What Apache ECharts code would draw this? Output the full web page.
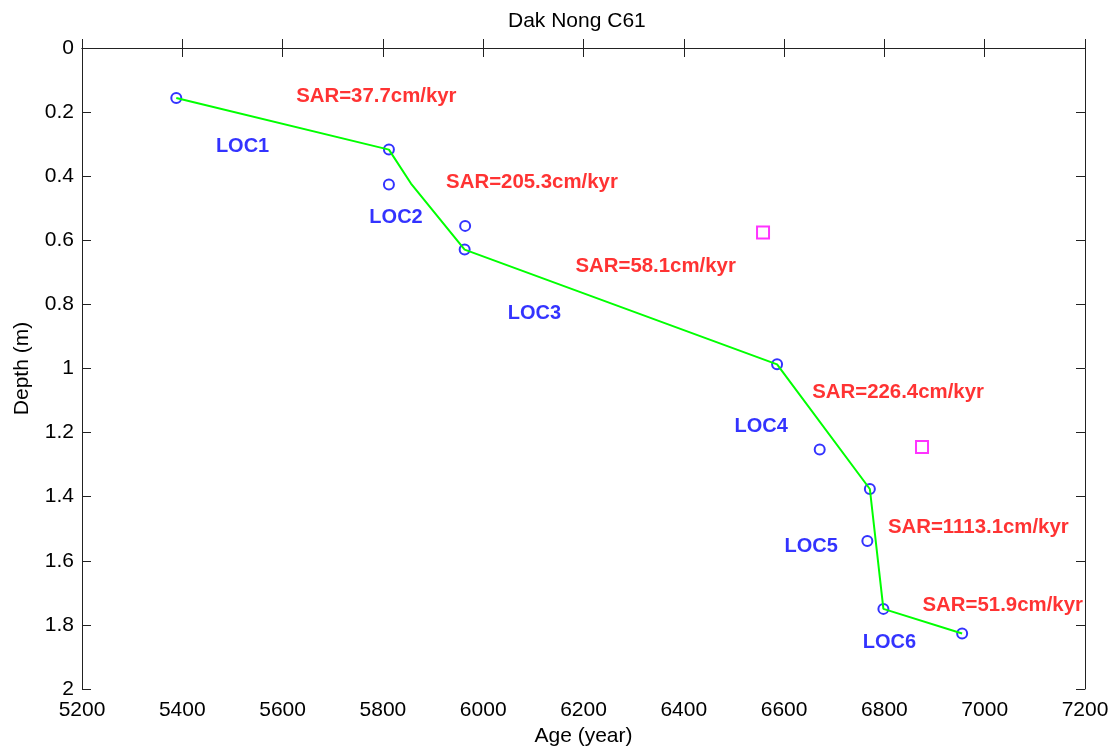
<!DOCTYPE html>
<html>
<head>
<meta charset="utf-8">
<title>Dak Nong C61</title>
<script src="https://cdn.jsdelivr.net/npm/echarts@6/dist/echarts.min.js"></script>
<style>
html, body { margin: 0; padding: 0; background: #fff; }
#main { width: 1119px; height: 746px; }
</style>
</head>
<body>
<div id="main"></div>
<script>
// dated samples (age in year, depth in m)
var sampleAge = [5388, 5812, 5812, 5964, 5963, 6586, 6671, 6771, 6766, 6798, 6955];
var sampleDepth = [0.156, 0.317, 0.426, 0.555, 0.629, 0.987, 1.253, 1.376, 1.538, 1.750, 1.827];

// age-depth model (green line)
var modelAge = [5388, 5812, 5856, 5963, 6586, 6771, 6798, 6955];
var modelDepth = [0.156, 0.317, 0.423, 0.629, 0.987, 1.376, 1.750, 1.827];

// outliers (magenta squares)
var outlierAge = [6558, 6875];
var outlierDepth = [0.576, 1.245];

// sedimentation rate labels
var sarText = ['SAR=37.7cm/kyr', 'SAR=205.3cm/kyr', 'SAR=58.1cm/kyr', 'SAR=226.4cm/kyr', 'SAR=1113.1cm/kyr', 'SAR=51.9cm/kyr'];
var sarAge = [5627, 5926, 6184, 6656, 6807, 6876];
var sarDepth = [0.150, 0.418, 0.680, 1.075, 1.497, 1.738];

// zone labels
var locText = ['LOC1', 'LOC2', 'LOC3', 'LOC4', 'LOC5', 'LOC6'];
var locAge = [5467, 5773, 6049, 6501, 6601, 6757];
var locDepth = [0.307, 0.529, 0.828, 1.182, 1.556, 1.856];

function pairs(xs, ys) {
	var out = [];
	for (var i = 0; i < xs.length; i++) {
		out.push([xs[i], ys[i]]);
	}
	return out;
}
function textPoints(xs, ys, txt) {
	var out = [];
	for (var i = 0; i < xs.length; i++) {
		out.push({ value: [xs[i], ys[i]], name: txt[i] });
	}
	return out;
}

var font = 'Arial, "Liberation Sans", sans-serif';
var axisColor = '#222';

var myChart = echarts.init(document.getElementById('main'));
var option = {
	backgroundColor: '#fff',
	animation: false,
	title: {
		text: 'Dak Nong C61',
		left: 503,
		top: 6,
		textStyle: { fontFamily: font, fontSize: 21, fontWeight: 'normal', color: '#000' }
	},
	grid: { left: 82, right: 34, top: 48, bottom: 57, containLabel: false, outerBoundsMode: 'none' },
	xAxis: [{
		type: 'value',
		min: 5200,
		max: 7200,
		interval: 200,
		name: 'Age (year)',
		nameLocation: 'middle',
		nameGap: 34,
		nameTextStyle: { fontFamily: font, fontSize: 21, color: '#000' },
		axisLine: { lineStyle: { color: axisColor, width: 1 } },
		axisTick: { inside: true, length: 9, lineStyle: { color: axisColor } },
		axisLabel: {
			fontFamily: font, fontSize: 21, color: '#000', margin: 11,
			formatter: function (v) { return String(v); }
		},
		splitLine: { show: false }
	}, {
		type: 'value',
		position: 'top',
		min: 5200,
		max: 7200,
		interval: 200,
		axisLine: { lineStyle: { color: axisColor, width: 1 } },
		axisTick: { inside: true, length: 9, lineStyle: { color: axisColor } },
		axisLabel: { show: false },
		splitLine: { show: false }
	}],
	yAxis: [{
		type: 'value',
		inverse: true,
		min: 0,
		max: 2,
		interval: 0.2,
		name: 'Depth (m)',
		nameLocation: 'middle',
		nameGap: 49,
		nameTextStyle: { fontFamily: font, fontSize: 21, color: '#000' },
		axisLine: { show: true, lineStyle: { color: axisColor, width: 1 } },
		axisTick: { show: true, inside: true, length: 9, lineStyle: { color: axisColor } },
		axisLabel: { fontFamily: font, fontSize: 21, color: '#000', margin: 8 },
		splitLine: { show: false }
	}, {
		type: 'value',
		position: 'right',
		inverse: true,
		min: 0,
		max: 2,
		interval: 0.2,
		axisLine: { show: true, lineStyle: { color: axisColor, width: 1 } },
		axisTick: { show: true, inside: true, length: 9, lineStyle: { color: axisColor } },
		axisLabel: { show: false },
		splitLine: { show: false }
	}],
	series: [{
		name: 'samples',
		type: 'scatter',
		symbol: 'circle',
		symbolSize: 10,
		itemStyle: { color: 'transparent', borderColor: '#0000ff', borderWidth: 2 },
		data: pairs(sampleAge, sampleDepth),
		z: 2
	}, {
		name: 'model',
		type: 'line',
		showSymbol: false,
		lineStyle: { color: '#00ff00', width: 2 },
		data: pairs(modelAge, modelDepth),
		z: 3
	}, {
		name: 'outliers',
		type: 'scatter',
		symbol: 'rect',
		symbolSize: 12,
		itemStyle: { color: 'transparent', borderColor: '#ff00ff', borderWidth: 2 },
		data: pairs(outlierAge, outlierDepth),
		z: 2
	}, {
		name: 'sar',
		type: 'scatter',
		symbolSize: 0,
		silent: true,
		label: {
			show: true,
			position: 'right',
			distance: 0,
			formatter: '{b}',
			fontFamily: font,
			fontSize: 20.4,
			fontWeight: 'bold',
			color: '#ff0000'
		},
		data: textPoints(sarAge, sarDepth, sarText),
		z: 4
	}, {
		name: 'loc',
		type: 'scatter',
		symbolSize: 0,
		silent: true,
		label: {
			show: true,
			position: 'right',
			distance: 0,
			formatter: '{b}',
			fontFamily: font,
			fontSize: 20,
			fontWeight: 'bold',
			color: '#0000ff'
		},
		data: textPoints(locAge, locDepth, locText),
		z: 4
	}]
};
myChart.setOption(option);
</script>
</body>
</html>
